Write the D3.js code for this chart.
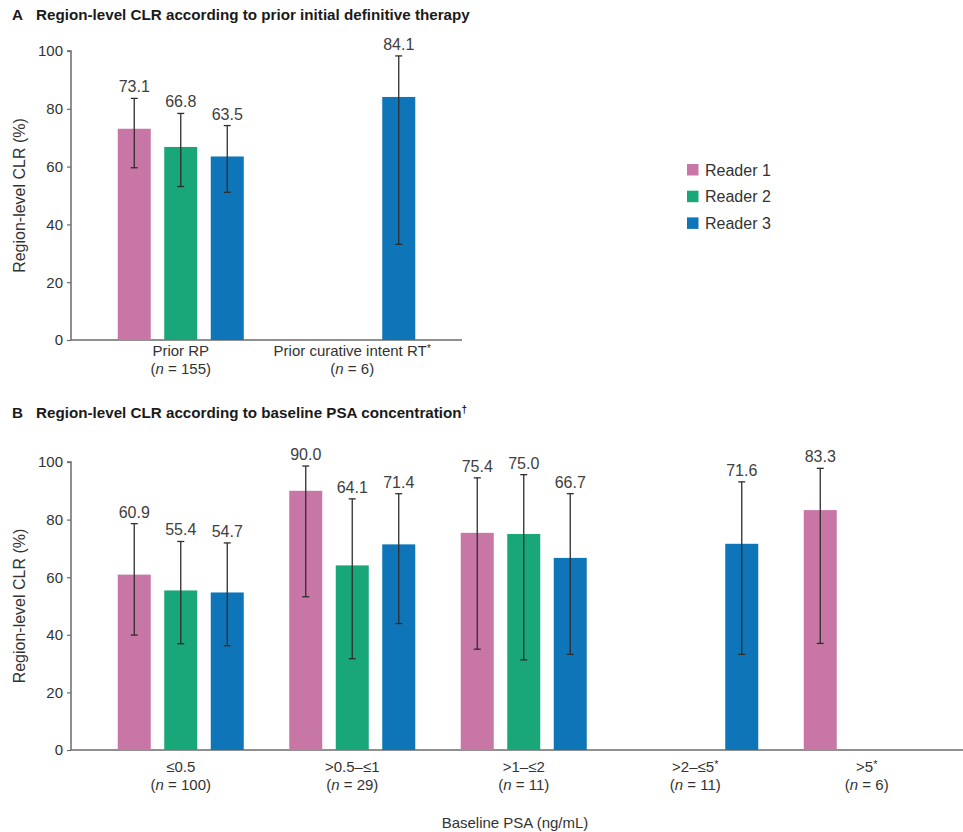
<!DOCTYPE html>
<html>
<head>
<meta charset="utf-8">
<script src="https://cdn.jsdelivr.net/npm/d3@7/dist/d3.min.js"></script>
<style>
  html, body { margin: 0; padding: 0; background: #fff; }
  svg { display: block; font-family: "Liberation Sans", Arial, sans-serif; }
</style>
</head>
<body>
<svg id="chart" width="963" height="832"></svg>
<script>
// ---------- DATA ----------
const readers = ["Reader 1", "Reader 2", "Reader 3"];
const readerColors = ["#c776a6", "#19a679", "#0e75b8"];

// Panel A
const catsA = ["Prior RP", "Prior curative intent RT*"];
const nA = ["155", "6"];
const valA_r1 = [73.1, null];
const valA_r2 = [66.8, null];
const valA_r3 = [63.5, 84.1];
const loA_r1 = [59.6, null];
const loA_r2 = [53.1, null];
const loA_r3 = [51.1, 33.1];
const hiA_r1 = [83.6, null];
const hiA_r2 = [78.4, null];
const hiA_r3 = [74.2, 98.3];

// Panel B
const catsB = ["≤0.5", ">0.5–≤1", ">1–≤2", ">2–≤5*", ">5*"];
const nB = ["100", "29", "11", "11", "6"];
const valB_r1 = [60.9, 90.0, 75.4, null, 83.3];
const valB_r2 = [55.4, 64.1, 75.0, null, null];
const valB_r3 = [54.7, 71.4, 66.7, 71.6, null];
const loB_r1 = [39.9, 53.2, 35.0, null, 37.0];
const loB_r2 = [36.9, 31.7, 31.3, null, null];
const loB_r3 = [36.2, 43.9, 33.2, 33.2, null];
const hiB_r1 = [78.6, 98.6, 94.5, null, 97.8];
const hiB_r2 = [72.4, 87.2, 95.6, null, null];
const hiB_r3 = [71.9, 89.0, 89.0, 93.1, null];

const yTicks = [0, 20, 40, 60, 80, 100];

// ---------- DRAW ----------
const svg = d3.select("#chart");
const TEXT = "#333";
const AXIS = "#6b6b6b";

function buildRows(cats, vals, los, his) {
  const rows = [];
  cats.forEach((c, i) => {
    readers.forEach((r, j) => {
      if (vals[j][i] != null) rows.push({cat: c, reader: r, ri: j, v: vals[j][i], lo: los[j][i], hi: his[j][i]});
    });
  });
  return rows;
}

function panel(opts) {
  const g = svg.append("g");
  const x = d3.scaleBand().domain(opts.cats).range(opts.xRange);
  const inner = d3.scalePoint().domain(readers).range([-46.5, 46.5]);
  const barW = 33;
  const y = d3.scaleLinear().domain([0, 100]).range(opts.yRange);

  // y axis
  const yAxis = d3.axisLeft(y).tickValues(yTicks).tickSize(4).tickPadding(4);
  const ya = g.append("g").attr("transform", `translate(${opts.axisX},0)`).call(yAxis);
  ya.select(".domain").attr("stroke", AXIS).attr("stroke-width", 1.5)
    .attr("d", `M-4,${y(100)}H0V${y(0)}`);
  ya.selectAll(".tick line").attr("stroke", AXIS).attr("stroke-width", 1.2);
  ya.selectAll(".tick text").attr("fill", TEXT).attr("font-size", 15)
    .attr("font-family", "Liberation Sans, Arial, sans-serif");

  // x axis line
  g.append("line").attr("x1", opts.axisX).attr("x2", opts.xAxisEnd)
    .attr("y1", y(0)).attr("y2", y(0)).attr("stroke", AXIS).attr("stroke-width", 1.5);

  const rows = buildRows(opts.cats, opts.vals, opts.los, opts.his);
  const cx = d => x(d.cat) + x.bandwidth() / 2 + inner(d.reader);

  g.selectAll("rect.bar").data(rows).join("rect")
    .attr("class", "bar")
    .attr("x", d => cx(d) - barW / 2)
    .attr("width", barW)
    .attr("y", d => y(d.v))
    .attr("height", d => y(0) - y(d.v))
    .attr("fill", d => readerColors[d.ri]);

  const eb = g.selectAll("g.eb").data(rows).join("g").attr("class", "eb")
    .attr("stroke", "#2e2e2e").attr("stroke-width", 1.3);
  eb.append("line").attr("x1", cx).attr("x2", cx).attr("y1", d => y(d.lo)).attr("y2", d => y(d.hi));
  eb.append("line").attr("x1", d => cx(d) - 3.5).attr("x2", d => cx(d) + 3.5).attr("y1", d => y(d.lo)).attr("y2", d => y(d.lo));
  eb.append("line").attr("x1", d => cx(d) - 3.5).attr("x2", d => cx(d) + 3.5).attr("y1", d => y(d.hi)).attr("y2", d => y(d.hi));

  g.selectAll("text.val").data(rows).join("text")
    .attr("class", "val")
    .attr("x", cx).attr("y", d => y(d.hi) - 6)
    .attr("text-anchor", "middle").attr("font-size", 16).attr("fill", "#404040")
    .text(d => d.v.toFixed(1));

  // category labels
  opts.cats.forEach((c, i) => {
    const xc = x(c) + x.bandwidth() / 2;
    const t = g.append("text").attr("x", xc).attr("y", y(0) + opts.lab1)
      .attr("text-anchor", "middle").attr("font-size", 15).attr("fill", TEXT);
    if (c.endsWith("*")) {
      t.append("tspan").text(c.slice(0, -1));
      t.append("tspan").attr("font-size", 11).attr("dy", -4).text("*");
    } else {
      t.text(c);
    }
    const t2 = g.append("text").attr("x", xc).attr("y", y(0) + opts.lab2)
      .attr("text-anchor", "middle").attr("font-size", 15).attr("fill", TEXT);
    t2.append("tspan").text("(");
    t2.append("tspan").attr("font-style", "italic").text("n");
    t2.append("tspan").text(" = " + opts.ns[i] + ")");
  });

  // y-axis title
  g.append("text")
    .attr("transform", `translate(${opts.yTitleX},${(y(0) + y(100)) / 2}) rotate(-90)`)
    .attr("text-anchor", "middle").attr("dominant-baseline", "central")
    .attr("font-size", 16).attr("fill", TEXT).text("Region-level CLR (%)");

  // title
  const tt = g.append("g");
  tt.append("text").attr("x", 12).attr("y", opts.titleY).attr("font-weight", "bold")
    .attr("font-size", 15.2).attr("fill", "#1a1a1a").text(opts.letter);
  const tx = tt.append("text").attr("x", 36).attr("y", opts.titleY).attr("font-weight", "bold")
    .attr("font-size", 15.2).attr("fill", "#1a1a1a");
  tx.append("tspan").text(opts.title);
  if (opts.titleSup) tx.append("tspan").attr("font-size", 10).attr("dy", -5).text(opts.titleSup);
  return g;
}

panel({
  cats: catsA, ns: nA,
  vals: [valA_r1, valA_r2, valA_r3], los: [loA_r1, loA_r2, loA_r3], his: [hiA_r1, hiA_r2, hiA_r3],
  xRange: [95, 438], yRange: [340, 51], axisX: 71, xAxisEnd: 462,
  lab1: 16, lab2: 34, yTitleX: 19, titleY: 20,
  letter: "A", title: "Region-level CLR according to prior initial definitive therapy"
});

panel({
  cats: catsB, ns: nB,
  vals: [valB_r1, valB_r2, valB_r3], los: [loB_r1, loB_r2, loB_r3], his: [hiB_r1, hiB_r2, hiB_r3],
  xRange: [95, 952.5], yRange: [750, 462], axisX: 71, xAxisEnd: 963,
  lab1: 22, lab2: 40, yTitleX: 19, titleY: 418,
  letter: "B", title: "Region-level CLR according to baseline PSA concentration", titleSup: "†"
});

// x-axis title for B
svg.append("text").attr("x", 515).attr("y", 828).attr("text-anchor", "middle")
  .attr("font-size", 15).attr("fill", TEXT).text("Baseline PSA (ng/mL)");

// legend
const leg = svg.append("g").attr("transform", "translate(687,164)");
const li = leg.selectAll("g").data(readers).join("g")
  .attr("transform", (d, i) => `translate(0,${i * 26.7})`);
li.append("rect").attr("width", 11.5).attr("height", 11.5).attr("fill", (d, i) => readerColors[i]);
li.append("text").attr("x", 18).attr("y", 11.5).attr("font-size", 16).attr("fill", TEXT).text(d => d);
</script>
</body>
</html>
